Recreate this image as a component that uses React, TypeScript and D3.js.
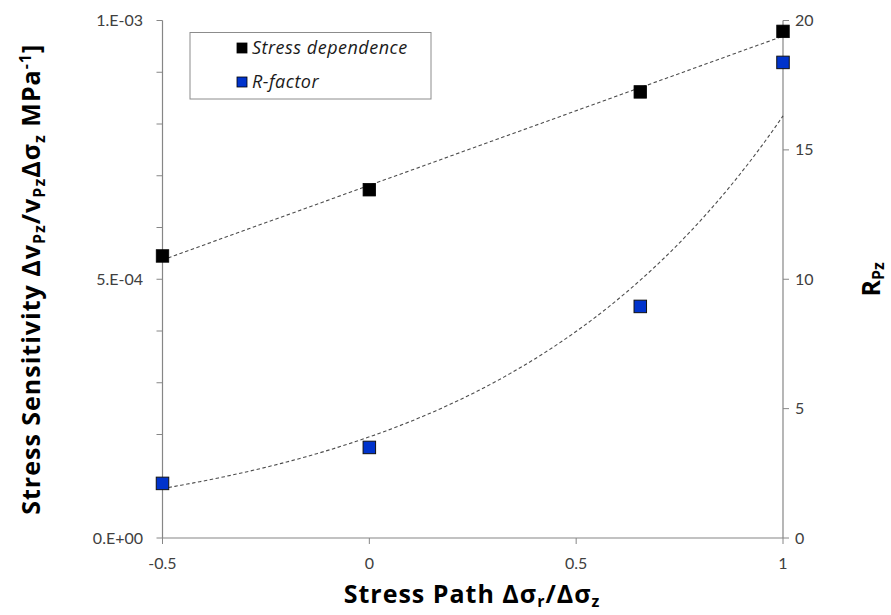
import React from 'react';
import * as d3 from 'd3';

// ---- data ----
const stressPath = [-0.5, 0, 0.655, 1];
const stressDependence = [5.45e-4, 6.73e-4, 8.62e-4, 9.79e-4];
const rFactor = [2.11, 3.5, 8.95, 18.38];

const leftMajorTicks = [0, 5e-4, 1e-3];
const leftMajorLabels = ['0.E+00', '5.E-04', '1.E-03'];
const leftMinorTicks = [0, 1e-4, 2e-4, 3e-4, 4e-4, 5e-4, 6e-4, 7e-4, 8e-4, 9e-4, 1e-3];
const rightTicks = [0, 5, 10, 15, 20];
const xTicks = [-0.5, 0, 0.5, 1];
const xTickLabels = ['-0.5', '0', '0.5', '1'];

const legendNames = ['Stress dependence', 'R-factor'];
const seriesColors = ['#000000', '#0033CC'];

const W = 891;
const H = 615;
const left = 162.5;
const right = 783;
const top = 20.5;
const bottom = 538;

const TICKFONT = 'Lato, "Open Sans", sans-serif';
const TITLEFONT = '"Open Sans", Lato, sans-serif';
const AXIS = '#868686';
const TICKTXT = '#404040';

function linearFit(xs: number[], ys: number[]) {
  const mx = d3.mean(xs)!;
  const my = d3.mean(ys)!;
  let sxy = 0, sxx = 0;
  xs.forEach((x, i) => { sxy += (x - mx) * (ys[i] - my); sxx += (x - mx) ** 2; });
  const b = sxy / sxx;
  return { a: my - b * mx, b };
}

export default function App() {
  const x = d3.scaleLinear().domain([-0.5, 1]).range([left, right]);
  const yL = d3.scaleLinear().domain([0, 1e-3]).range([bottom, top]);
  const yR = d3.scaleLinear().domain([0, 20]).range([bottom, top]);

  const lin = linearFit(stressPath, stressDependence);
  const expFit = linearFit(stressPath, rFactor.map(Math.log));
  const xs = d3.range(0, 101).map(i => -0.5 + (1.5 * i) / 100);

  const lineL = d3.line<number>().x(d => x(d)).y(d => yL(lin.a + lin.b * d));
  const lineR = d3.line<number>().x(d => x(d)).y(d => yR(Math.exp(expFit.a + expFit.b * d)));

  const sq = 12.5;

  return (
    <svg width={W} height={H} style={{ position: 'absolute', left: 0, top: 0, background: '#fff' }}
      fontFamily={TICKFONT}>
      {/* axes lines */}
      <line x1={left} x2={left} y1={top} y2={bottom} stroke={AXIS} strokeWidth={1.2} />
      <line x1={right} x2={right} y1={top} y2={bottom} stroke={AXIS} strokeWidth={1.2} />
      <line x1={left} x2={right} y1={bottom} y2={bottom} stroke={AXIS} strokeWidth={1.2} />

      {/* left ticks */}
      {leftMinorTicks.map((t, i) => (
        <line key={'lm' + i} x1={left - 6} x2={left} y1={yL(t)} y2={yL(t)} stroke={AXIS} strokeWidth={1} />
      ))}
      {leftMajorTicks.map((t, i) => (
        <text key={'ll' + i} x={left - 19.5} y={yL(t)} dy="0.35em" textAnchor="end" fontSize={16} fill={TICKTXT}>
          {leftMajorLabels[i]}
        </text>
      ))}

      {/* right ticks */}
      {rightTicks.map((t, i) => (
        <g key={'r' + i}>
          <line x1={right} x2={right + 6} y1={yR(t)} y2={yR(t)} stroke={AXIS} strokeWidth={1} />
          <text x={right + 12} y={yR(t)} dy="0.35em" textAnchor="start" fontSize={16} fill={TICKTXT}>
            {String(t)}
          </text>
        </g>
      ))}

      {/* x ticks */}
      {xTicks.map((t, i) => (
        <g key={'x' + i}>
          <line x1={x(t)} x2={x(t)} y1={bottom} y2={bottom + 6} stroke={AXIS} strokeWidth={1} />
          <text x={x(t)} y={bottom + 25} dy="0.35em" textAnchor="middle" fontSize={16} fill={TICKTXT}>
            {xTickLabels[i]}
          </text>
        </g>
      ))}

      {/* trend lines */}
      <path d={lineL(xs)!} fill="none" stroke="#4d4d4d" strokeWidth={1.1} strokeDasharray="3.5,2.5" />
      <path d={lineR(xs)!} fill="none" stroke="#4d4d4d" strokeWidth={1.1} strokeDasharray="3.5,2.5" />

      {/* markers */}
      {stressPath.map((p, i) => (
        <rect key={'s' + i} x={x(p) - sq / 2} y={yL(stressDependence[i]) - sq / 2} width={sq} height={sq}
          fill={seriesColors[0]} stroke="#000" strokeWidth={0.8} />
      ))}
      {stressPath.map((p, i) => (
        <rect key={'b' + i} x={x(p) - sq / 2} y={yR(rFactor[i]) - sq / 2} width={sq} height={sq}
          fill={seriesColors[1]} stroke="#111" strokeWidth={1} />
      ))}

      {/* legend */}
      <rect x={190} y={32.5} width={241} height={66.5} fill="#fff" stroke="#8c8c8c" strokeWidth={1} />
      {legendNames.map((n, i) => (
        <g key={'lg' + i}>
          <rect x={237} y={43 + i * 34} width={10} height={10} fill={seriesColors[i]} stroke="#000" strokeWidth={0.8} />
          <text x={252} y={48 + i * 34} dy="0.35em" fontFamily={TITLEFONT} fontSize={18} letterSpacing={0.5}
            fontStyle="italic" fill="#1a1a1a">{n}</text>
        </g>
      ))}

      {/* x axis title */}
      <text x={472} y={603} textAnchor="middle" fontFamily={TITLEFONT} fontSize={25} letterSpacing={1}
        fontWeight="bold" fill="#000">
        Stress Path Δσ<tspan fontSize={16} dy={4}>r</tspan><tspan dy={-4}>/Δσ</tspan><tspan fontSize={16} dy={4}>z</tspan>
      </text>

      {/* left axis title */}
      <text transform={`translate(40,${(top + bottom) / 2}) rotate(-90)`} textAnchor="middle" fontFamily={TITLEFONT}
        fontSize={25} letterSpacing={1} fontWeight="bold" fill="#000">
        Stress Sensitivity Δv<tspan fontSize={16} dy={5}>Pz</tspan><tspan dy={-5}>/v</tspan><tspan fontSize={16} dy={5}>Pz</tspan><tspan dy={-5}>Δσ</tspan><tspan fontSize={16} dy={5}>z</tspan><tspan dy={-5}> MPa</tspan><tspan fontSize={16} dy={-9}>-1</tspan><tspan dy={9}>]</tspan>
      </text>

      {/* right axis title */}
      <text transform={`translate(880,${(top + bottom) / 2}) rotate(-90)`} textAnchor="middle" fontFamily={TITLEFONT}
        fontSize={25} fontWeight="bold" fill="#000">
        R<tspan fontSize={16} dy={4}>Pz</tspan>
      </text>
    </svg>
  );
}
